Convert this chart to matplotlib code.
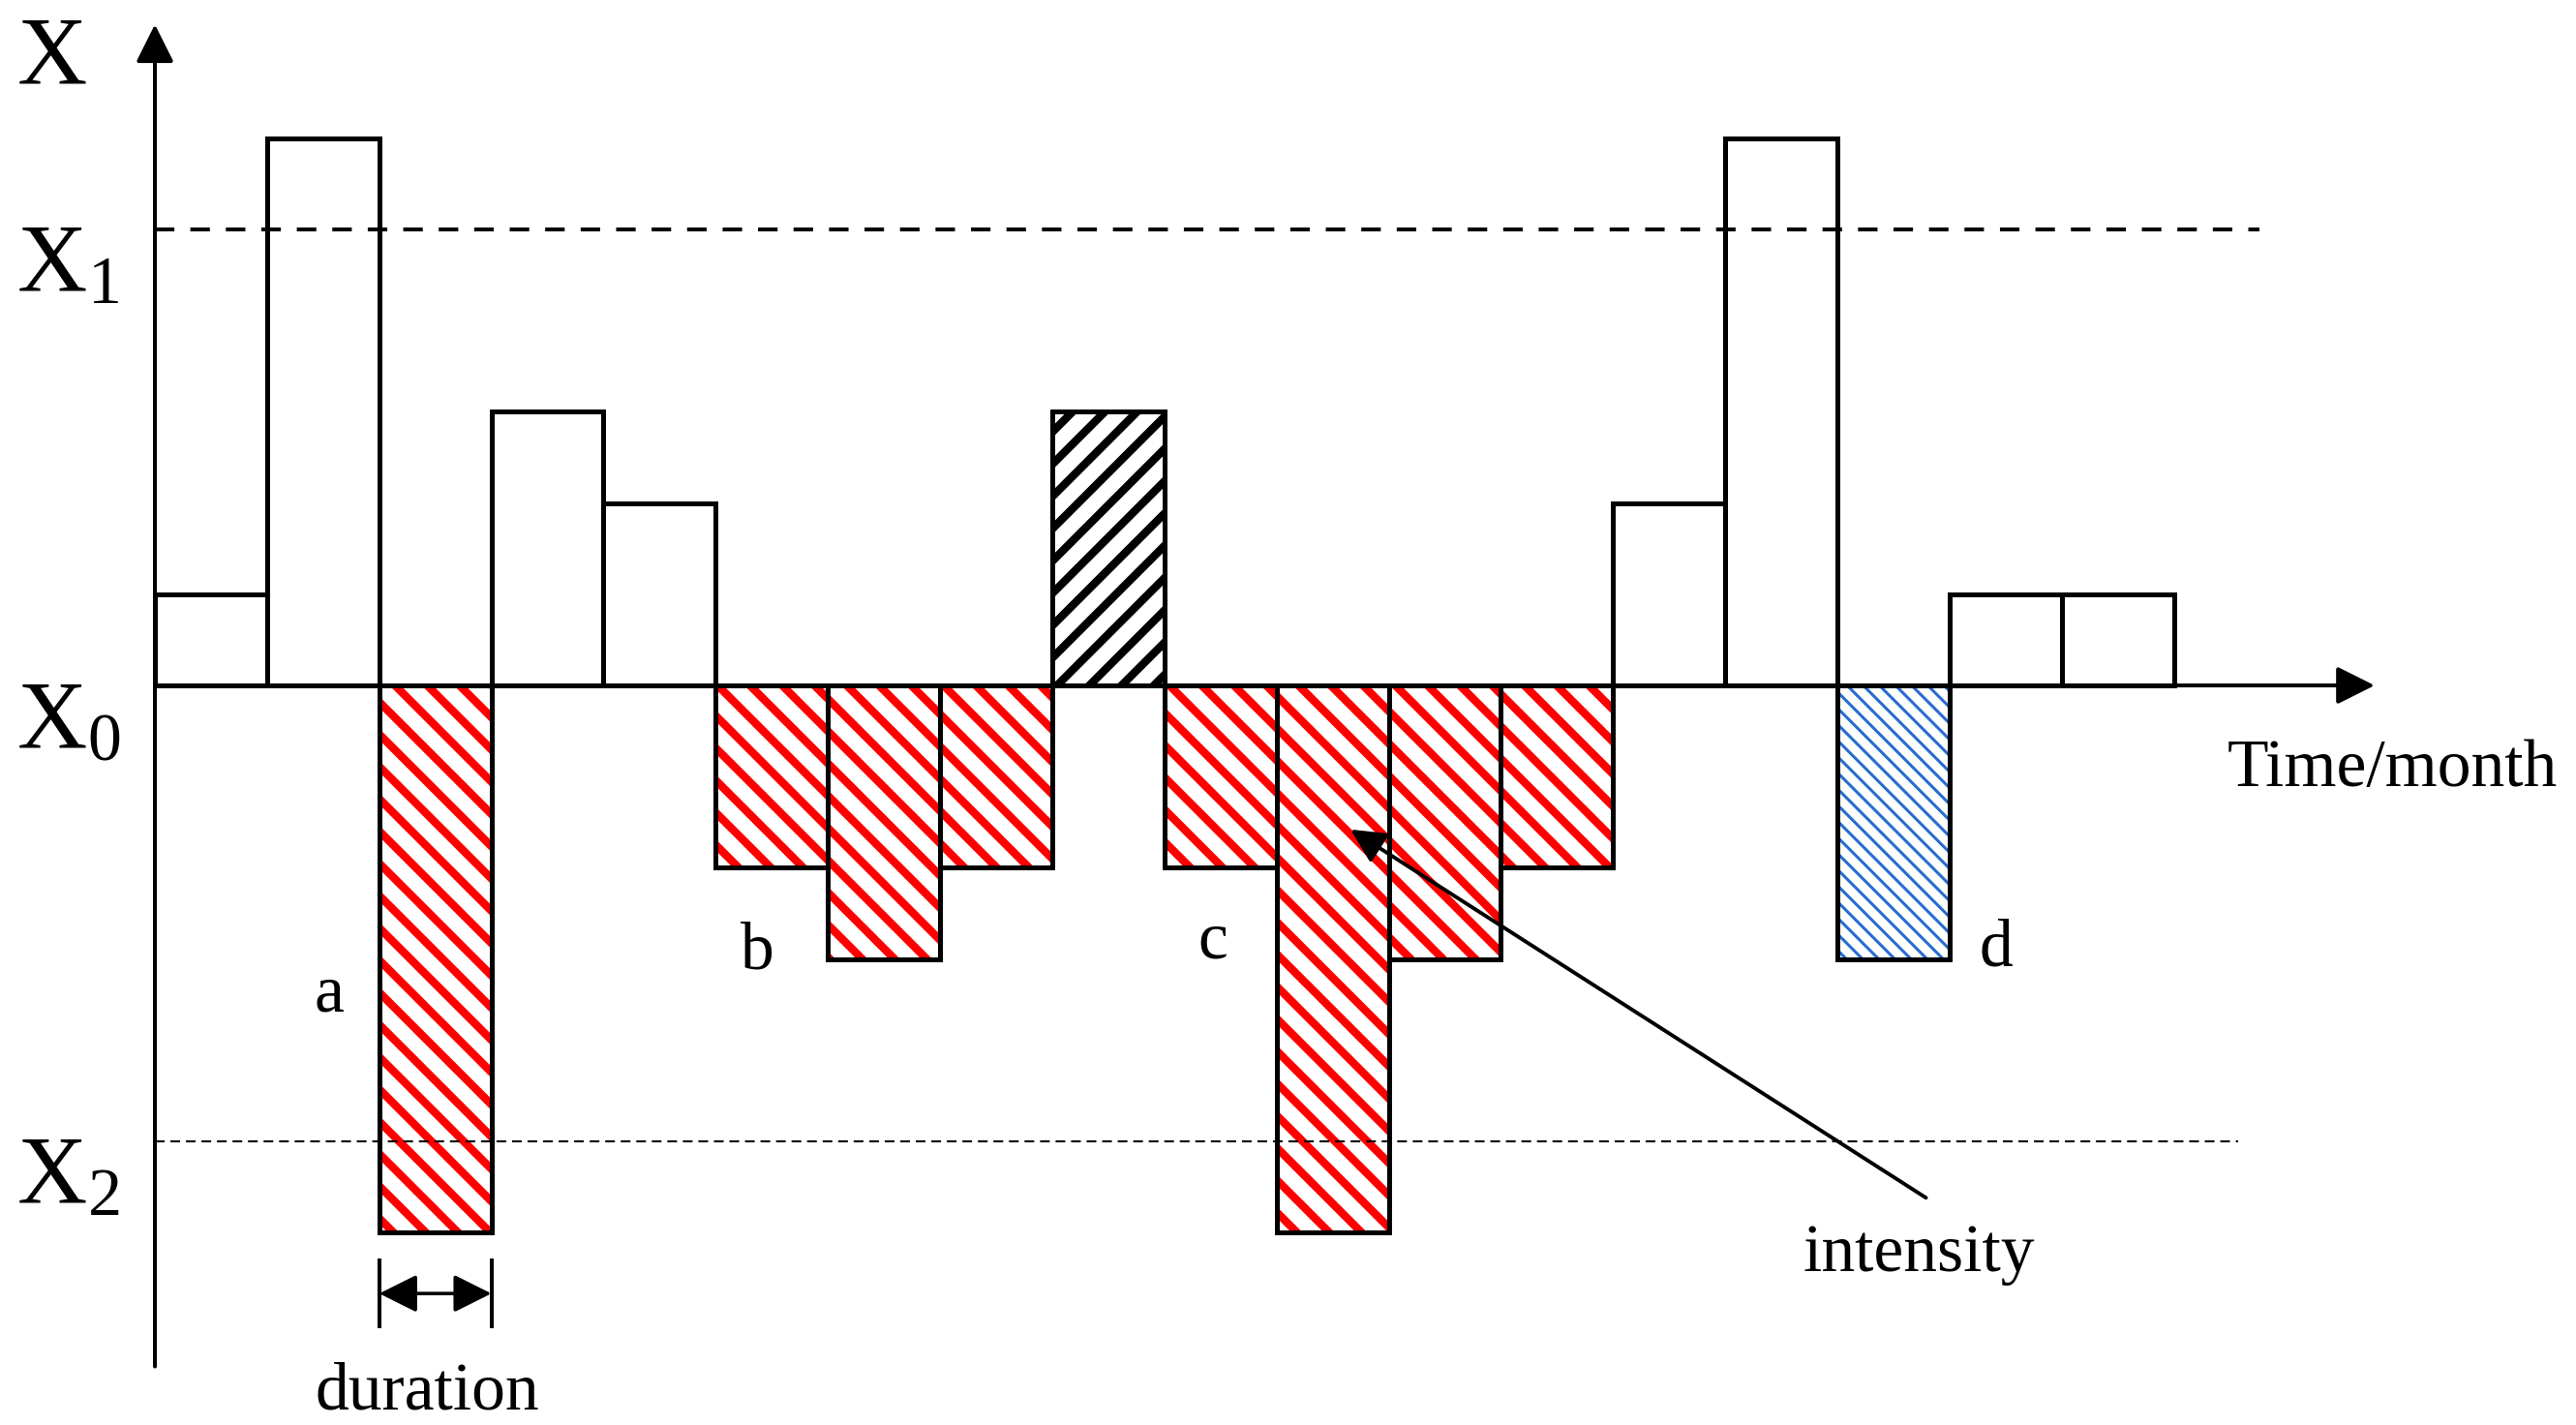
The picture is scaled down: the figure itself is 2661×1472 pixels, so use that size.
import matplotlib
matplotlib.use("Agg")
import matplotlib.pyplot as plt

plt.rcParams['font.family'] = ['Liberation Serif', 'DejaVu Serif']
plt.rcParams['mathtext.fontset'] = 'custom'
plt.rcParams['mathtext.rm'] = 'Liberation Serif'
plt.rcParams['mathtext.it'] = 'Liberation Serif:italic'

# monthly value of X relative to X0 (arbitrary units), one bar per month
months = list(range(18))
values = [1, 6, -6, 3, 2, -2, -3, -2, 3, -2, -6, -3, -2, 2, 6, -3, 1, 1]
kinds = ['plain', 'plain', 'red', 'plain', 'plain', 'red', 'red', 'red', 'black',
         'red', 'red', 'red', 'red', 'plain', 'plain', 'blue', 'plain', 'plain']
x1_level = 5    # upper threshold X1
x2_level = -5   # lower threshold X2
event_names = ['a', 'b', 'c', 'd']

# hatch colour, pattern, hatch line width
styles = {'red': ('#ff0000', '\\\\', 3.0),
          'black': ('black', '//', 3.0),
          'blue': ('#2a6ccf', '\\\\\\\\', 1.1)}

fig = plt.figure(figsize=(2661 / 200, 1472 / 200), dpi=200)
ax = fig.add_axes([0, 0, 1, 1])
ax.set_xlim(-1.381, 21.585)
ax.set_ylim(-8.112, 7.518)
ax.axis('off')

#bars: hatch layer first, then black outline on top
for m, v, k in zip(months, values, kinds):
    if k != 'plain':
        col, hat, hlw = styles[k]
        p = ax.bar(m, v, width=1, align='edge', facecolor='white', edgecolor=col,
                   linewidth=0, hatch=hat, zorder=1)[0]
        if hasattr(p, 'set_hatch_linewidth'):
            p.set_hatch_linewidth(hlw)
    else:
        ax.bar(m, v, width=1, align='edge', facecolor='white', linewidth=0, zorder=1)
    ax.bar(m, v, width=1, align='edge', fill=False, edgecolor='black', linewidth=1.8, zorder=4)

#threshold lines
ax.plot([0, 18.76], [x1_level, x1_level], color='black', lw=1.45, dashes=(5, 4.1), zorder=3)
ax.plot([0, 18.57], [x2_level, x2_level], color='black', lw=0.75, dashes=(4.8, 2.9), zorder=3)

#axes with arrows
arr = dict(arrowstyle='-|>,head_length=0.6,head_width=0.3', mutation_scale=20,
           lw=1.45, color='black', shrinkA=0, shrinkB=0)
ax.annotate('', xy=(19.79, 0), xytext=(0, 0), arrowprops=arr, zorder=5)
ax.annotate('', xy=(0, 7.25), xytext=(0, -7.47), arrowprops=arr, zorder=5)

#level labels
ax.text(-1.234, 6.61, r'$\mathregular{X}$', fontsize=36, ha='left', va='baseline')
ax.text(-1.234, 4.33, r'$\mathregular{X_1}$', fontsize=36, ha='left', va='baseline')
ax.text(-1.234, -0.68, r'$\mathregular{X_0}$', fontsize=36, ha='left', va='baseline')
ax.text(-1.234, -5.67, r'$\mathregular{X_2}$', fontsize=36, ha='left', va='baseline')

ax.text(19.95, -1.10, 'Time/month', fontsize=25, ha='center', va='baseline')

#event letters
for name, (ex, ey) in zip(event_names, [(1.55, -3.57), (5.37, -3.11), (9.43, -2.99), (16.41, -3.07)]):
    ax.text(ex, ey, name, fontsize=25, ha='center', va='baseline')

#intensity arrow
ax.annotate('', xy=(10.66, -1.58), xytext=(15.79, -5.62),
            arrowprops=dict(arrowstyle='-|>,head_length=0.6,head_width=0.3', mutation_scale=18,
                            lw=1.4, color='black', shrinkA=0, shrinkB=0), zorder=6)
ax.text(15.73, -6.42, 'intensity', fontsize=25, ha='center', va='baseline')

#duration arrow
ax.annotate('', xy=(3, -6.67), xytext=(2, -6.67),
            arrowprops=dict(arrowstyle='<|-|>,head_length=0.6,head_width=0.3', mutation_scale=20,
                            lw=1.3, color='black', shrinkA=0, shrinkB=0))
ax.plot([2, 2], [-6.31, -7.03], color='black', lw=1.45)
ax.plot([3, 3], [-6.31, -7.03], color='black', lw=1.45)
ax.text(2.43, -7.94, 'duration', fontsize=25, ha='center', va='baseline')

fig.savefig('out.png', dpi=200)
